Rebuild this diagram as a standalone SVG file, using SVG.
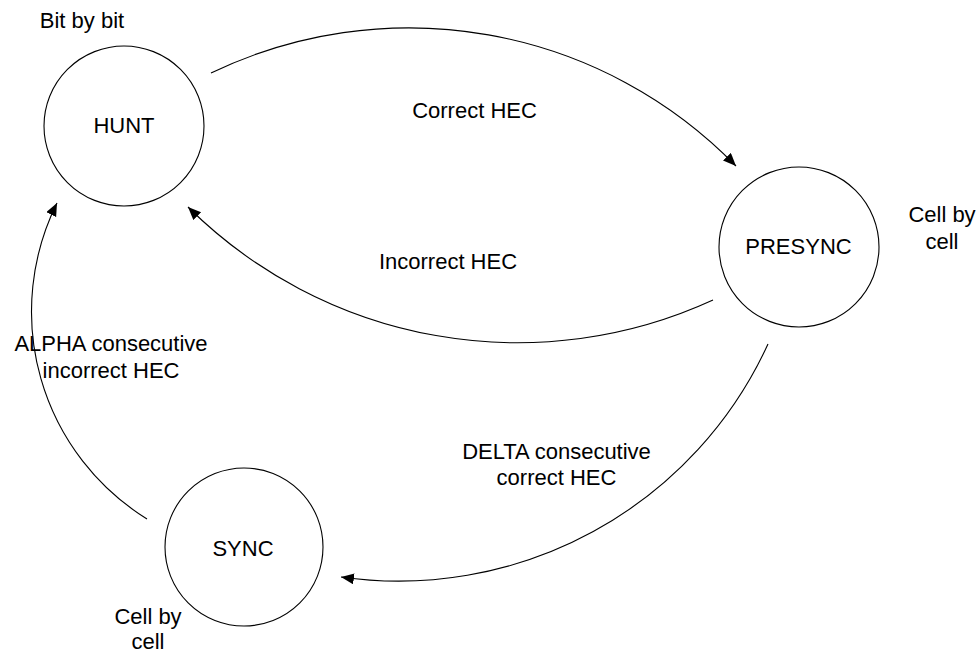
<svg xmlns="http://www.w3.org/2000/svg" width="979" height="654" viewBox="0 0 979 654">
  <style>
    text { font-family: "Liberation Sans", Arial, sans-serif; font-size: 22px; fill: #000; text-anchor: middle; }
    .state { fill: #fff; stroke: #000; stroke-width: 1.1; }
    .edge { fill: none; stroke: #000; stroke-width: 1.1; marker-end: url(#arrow); }
  </style>
  <defs>
    <marker id="arrow" markerUnits="userSpaceOnUse" markerWidth="14" markerHeight="12" refX="13" refY="5.5" orient="auto">
      <path d="M0,0 L13,5.5 L0,11 z" fill="#000"/>
    </marker>
  </defs>
  <rect width="979" height="654" fill="#fff"/>

  <g id="connectors">
    <path class="edge" d="M211,73 A456.5,456.5 0 0 1 736,166"/>
    <path class="edge" d="M713,300 A468,468 0 0 1 188,207"/>
    <path class="edge" d="M768,344 A406,406 0 0 1 341,577"/>
    <path class="edge" d="M147,519 A244,244 0 0 1 57,203"/>
  </g>

  <g id="hunt">
    <circle class="state" cx="124" cy="126" r="80"/>
    <text x="124" y="133">HUNT</text>
    <text x="82" y="28">Bit by bit</text>
  </g>

  <g id="presync">
    <circle class="state" cx="799" cy="247" r="80"/>
    <text x="798.5" y="254">PRESYNC</text>
    <text x="942" y="222">Cell by</text>
    <text x="942" y="249">cell</text>
  </g>

  <g id="sync">
    <circle class="state" cx="244" cy="547" r="79"/>
    <text x="243" y="556">SYNC</text>
    <text x="148" y="624">Cell by</text>
    <text x="148" y="649">cell</text>
  </g>

  <g id="labels">
    <text x="474.5" y="118">Correct HEC</text>
    <text x="448" y="269">Incorrect HEC</text>
    <text x="111" y="351">ALPHA consecutive</text>
    <text x="111" y="378">incorrect HEC</text>
    <text x="556.5" y="459">DELTA consecutive</text>
    <text x="556.5" y="485">correct HEC</text>
  </g>
</svg>
